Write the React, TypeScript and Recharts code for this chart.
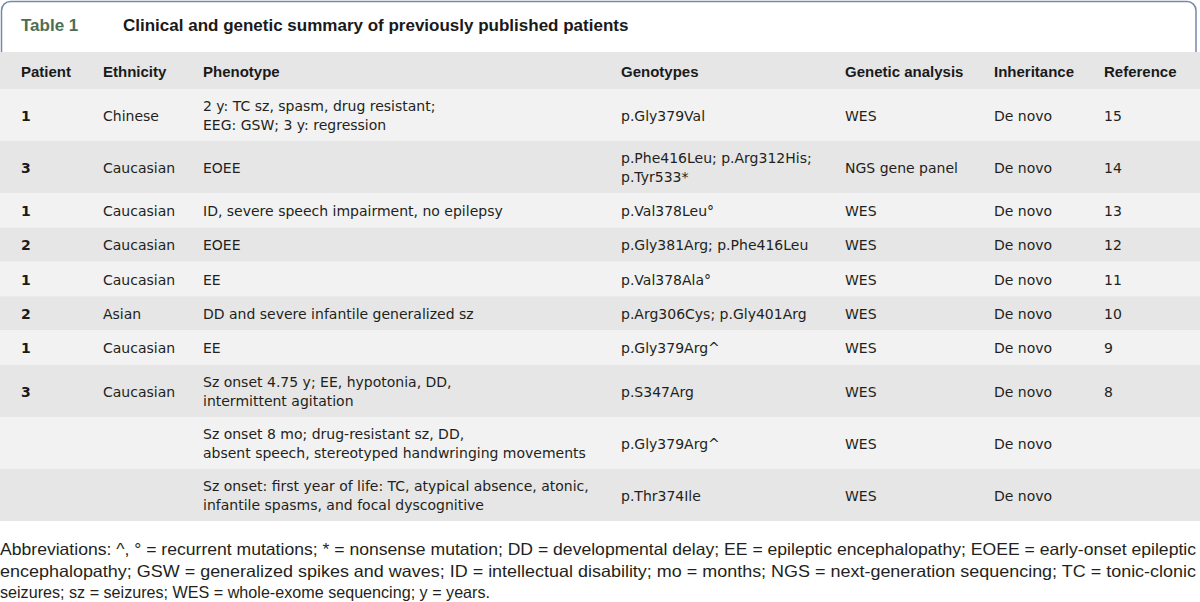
import { ScatterChart, Scatter, XAxis, YAxis, ReferenceArea } from 'recharts';

// table content
const tableLabel = 'Table 1';
const tableTitle = 'Clinical and genetic summary of previously published patients';

const headers = ['Patient', 'Ethnicity', 'Phenotype', 'Genotypes', 'Genetic analysis', 'Inheritance', 'Reference'];

const patients = ['1', '3', '1', '2', '1', '2', '1', '3', '', ''];

const ethnicities = [
  'Chinese', 'Caucasian', 'Caucasian', 'Caucasian', 'Caucasian',
  'Asian', 'Caucasian', 'Caucasian', '', '',
];

const phenotypes = [
  ['2 y: TC sz, spasm, drug resistant;', 'EEG: GSW; 3 y: regression'],
  ['EOEE'],
  ['ID, severe speech impairment, no epilepsy'],
  ['EOEE'],
  ['EE'],
  ['DD and severe infantile generalized sz'],
  ['EE'],
  ['Sz onset 4.75 y; EE, hypotonia, DD,', 'intermittent agitation'],
  ['Sz onset 8 mo; drug-resistant sz, DD,', 'absent speech, stereotyped handwringing movements'],
  ['Sz onset: first year of life: TC, atypical absence, atonic,', 'infantile spasms, and focal dyscognitive'],
];

const genotypes = [
  ['p.Gly379Val'],
  ['p.Phe416Leu; p.Arg312His;', 'p.Tyr533*'],
  ['p.Val378Leu°'],
  ['p.Gly381Arg; p.Phe416Leu'],
  ['p.Val378Ala°'],
  ['p.Arg306Cys; p.Gly401Arg'],
  ['p.Gly379Arg^'],
  ['p.S347Arg'],
  ['p.Gly379Arg^'],
  ['p.Thr374Ile'],
];

const analyses = ['WES', 'NGS gene panel', 'WES', 'WES', 'WES', 'WES', 'WES', 'WES', 'WES', 'WES'];

const inheritance = ['De novo', 'De novo', 'De novo', 'De novo', 'De novo', 'De novo', 'De novo', 'De novo', 'De novo', 'De novo'];

const references = ['15', '14', '13', '12', '11', '10', '9', '8', '', ''];

const footnote = [
  'Abbreviations: ^, ° = recurrent mutations; * = nonsense mutation; DD = developmental delay; EE = epileptic encephalopathy; EOEE = early-onset epileptic',
  'encephalopathy; GSW = generalized spikes and waves; ID = intellectual disability; mo = months; NGS = next-generation sequencing; TC = tonic-clonic',
  'seizures; sz = seizures; WES = whole-exome sequencing; y = years.',
];

// layout
const W = 1200;
const H = 602;
const colX = [21, 103, 203, 621, 845, 994, 1104];
const headerTop = 52;
const headerBottom = 89;
const lineGap = 19;
const noteY = [549.5, 571, 592.5];
const noteWidths = [1196, 1196, 490];

const rowHeight = (lines: number) => (lines > 1 ? 52 : 34.4);

interface Cell {
  x: number;
  y: number;
  text: string;
  kind: string;
  len?: number;
}

function buildRows() {
  const rows: { top: number; bottom: number; cols: string[][] }[] = [];
  let top = headerBottom;
  for (let r = 0; r < patients.length; r++) {
    const cols = [
      [patients[r]],
      [ethnicities[r]],
      phenotypes[r],
      genotypes[r],
      [analyses[r]],
      [inheritance[r]],
      [references[r]],
    ];
    const lines = Math.max(...cols.map((c) => c.length));
    const bottom = top + rowHeight(lines);
    rows.push({ top, bottom, cols });
    top = bottom;
  }
  return rows;
}

const rows = buildRows();

function buildCells(): Cell[] {
  const cells: Cell[] = [];
  cells.push({ x: 21, y: 25, text: tableLabel, kind: 'label' });
  cells.push({ x: 123, y: 25, text: tableTitle, kind: 'title' });
  headers.forEach((h, i) => {
    cells.push({ x: colX[i], y: (headerTop + headerBottom) / 2 + 1.5, text: h, kind: 'header' });
  });
  rows.forEach((row) => {
    const mid = (row.top + row.bottom) / 2;
    row.cols.forEach((lines, c) => {
      lines.forEach((t, i) => {
        if (!t) return;
        cells.push({
          x: colX[c],
          y: mid + (i - (lines.length - 1) / 2) * lineGap + 0.5,
          text: t,
          kind: c === 0 ? 'patient' : 'body',
        });
      });
    });
  });
  footnote.forEach((t, i) => {
    cells.push({ x: 0, y: noteY[i], text: t, kind: 'note', len: noteWidths[i] });
  });
  return cells;
}

const cells = buildCells();

const styles: Record<string, any> = {
  label: { fontFamily: '"Liberation Sans", Arial, sans-serif', fontSize: 17, fontWeight: 700, fill: '#4d6e55' },
  title: { fontFamily: '"Liberation Sans", Arial, sans-serif', fontSize: 17, fontWeight: 700, fill: '#1a1a1a' },
  header: { fontFamily: '"Liberation Sans", Arial, sans-serif', fontSize: 15, fontWeight: 700, fill: '#1a1a1a' },
  patient: { fontFamily: '"DejaVu Sans", sans-serif', fontSize: 14, fontWeight: 700, fill: '#1a1a1a' },
  body: { fontFamily: '"DejaVu Sans", sans-serif', fontSize: 14, fill: '#231f20' },
  note: { fontFamily: '"Liberation Sans Narrow", "Liberation Sans", sans-serif', fontSize: 16.5, fill: '#231f20' },
};

function CellText(props: any) {
  const { cx, cy, payload } = props;
  const st = styles[payload.kind];
  return (
    <text
      x={cx}
      y={cy}
      dy="0.36em"
      textAnchor="start"
      {...st}
      textLength={payload.len}
      lengthAdjust={payload.len ? 'spacingAndGlyphs' : undefined}
    >
      {payload.text}
    </text>
  );
}

function TitleBox(props: any) {
  const { x, y, width, height } = props;
  return (
    <rect x={x} y={y} width={width} height={height} rx={9} ry={9} fill="#ffffff" stroke="#7688ab" strokeWidth={1.5} />
  );
}

export default function App() {
  return (
    <div style={{ position: 'absolute', left: 0, top: 0, width: W, height: H, background: '#ffffff' }}>
      <ScatterChart width={W} height={H} margin={{ top: 0, right: 0, bottom: 0, left: 0 }}>
        <XAxis type="number" dataKey="x" domain={[0, W]} allowDataOverflow hide />
        <YAxis type="number" dataKey="y" domain={[0, H]} allowDataOverflow reversed hide />
        <ReferenceArea x1={1.5} x2={1196} y1={1.5} y2={80} shape={<TitleBox />} />
        <ReferenceArea x1={0} x2={W} y1={headerTop} y2={headerBottom} fill="#e6e6e6" fillOpacity={1} stroke="none" />
        {rows.map((row, i) => (
          <ReferenceArea
            key={i}
            x1={0}
            x2={W}
            y1={row.top}
            y2={row.bottom}
            fill={i % 2 === 0 ? '#f2f2f2' : '#e6e6e6'}
            fillOpacity={1}
            stroke="none"
          />
        ))}
        <Scatter data={cells} shape={<CellText />} isAnimationActive={false} />
      </ScatterChart>
    </div>
  );
}
